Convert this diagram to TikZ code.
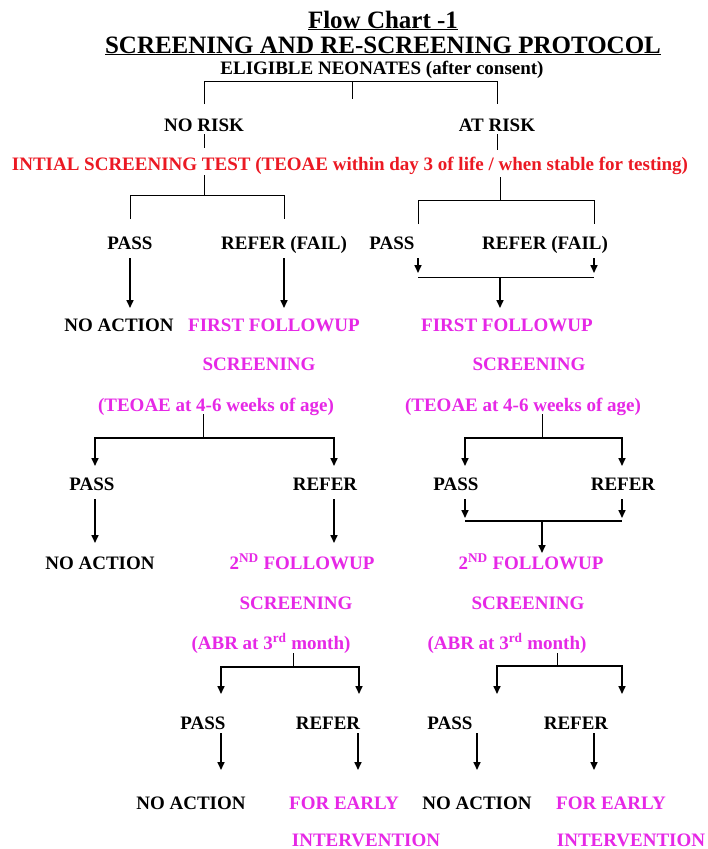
\documentclass[tikz,border=0pt]{standalone}
\usepackage{fontspec}
\setmainfont{Liberation Serif}
\usetikzlibrary{arrows.meta}
\definecolor{chred}{RGB}{235,25,35}
\definecolor{chpink}{RGB}{230,40,230}
\begin{document}
\begin{tikzpicture}[x=1pt,y=-1pt,
  txt/.style={font=\fontsize{19}{22}\selectfont\bfseries, inner sep=0pt, anchor=base},
  ttl/.style={font=\fontsize{25}{28}\selectfont\bfseries, inner sep=0pt, anchor=base},
  pk/.style={txt,text=chpink},
  rd/.style={txt,text=chred},
  ln/.style={line width=1pt},
  thk/.style={line width=1.6pt},
  arr/.style={line width=1.6pt,-{Triangle[length=8pt,width=7pt]}}]
\useasboundingbox[fill=white] (0,0) rectangle (708,849);
% titles
\node[ttl] (t1) at (383,28) {\underline{Flow Chart -1}};
\node[ttl] (t2) at (383,53) {\underline{SCREENING AND RE-SCREENING PROTOCOL}};
\node[txt] (elig) at (382,74) {ELIGIBLE NEONATES (after consent)};
\node[txt] (norisk) at (204,131) {NO RISK};
\node[txt] (atrisk) at (497,131) {AT RISK};
\node[rd] (init) at (350,170) {INTIAL SCREENING TEST (TEOAE within day 3 of life / when stable for testing)};
% level 1
\node[txt] (pass1) at (130,249) {PASS};
\node[txt] (refer1) at (284,249) {REFER (FAIL)};
\node[txt] (pass2) at (392,249) {PASS};
\node[txt] (refer2) at (545,249) {REFER (FAIL)};
\node[txt] (noact1) at (119,331) {NO ACTION};
\node[pk] (ff1) at (274,331) {FIRST FOLLOWUP};
\node[pk] (ff2) at (507,331) {FIRST FOLLOWUP};
\node[pk] (scr1) at (259,370) {SCREENING};
\node[pk] (scr2) at (529,370) {SCREENING};
\node[pk] (teo1) at (216,411) {(TEOAE at 4-6 weeks of age)};
\node[pk] (teo2) at (523,411) {(TEOAE at 4-6 weeks of age)};
% level 2
\node[txt] (pass3) at (92,490) {PASS};
\node[txt] (refer3) at (325,490) {REFER};
\node[txt] (pass4) at (456,490) {PASS};
\node[txt] (refer4) at (623,490) {REFER};
\node[txt] (noact2) at (100,569) {NO ACTION};
\node[pk] (snd1) at (302,569) {2\textsuperscript{ND} FOLLOWUP};
\node[pk] (snd2) at (531,569) {2\textsuperscript{ND} FOLLOWUP};
\node[pk] (scr3) at (296,609) {SCREENING};
\node[pk] (scr4) at (528,609) {SCREENING};
\node[pk] (abr1) at (271,649) {(ABR at 3\textsuperscript{rd} month)};
\node[pk] (abr2) at (507,649) {(ABR at 3\textsuperscript{rd} month)};
% level 3
\node[txt] (pass5) at (203,729) {PASS};
\node[txt] (refer5) at (328,729) {REFER};
\node[txt] (pass6) at (450,729) {PASS};
\node[txt] (refer6) at (576,729) {REFER};
\node[txt] (noact3) at (191,809) {NO ACTION};
\node[pk] (early1) at (344,809) {FOR EARLY};
\node[txt] (noact4) at (477,809) {NO ACTION};
\node[pk] (early2) at (611,809) {FOR EARLY};
\node[pk] (int1) at (366,846) {INTERVENTION};
\node[pk] (int2) at (631,846) {INTERVENTION};
% connectors: top
\draw[ln] (352,81) -- (352,99);
\draw[ln] (204,104) -- (204,81) -- (497,81) -- (497,104);
\draw[ln] (204,134) -- (204,148);
\draw[ln] (497,134) -- (497,150);
% left initial
\draw[ln] (204,175) -- (204,195);
\draw[ln] (130,219) -- (130,195) -- (284,195) -- (284,219);
\draw[arr] (130,258) -- (130,308);
\draw[arr] (284,258) -- (284,308);
% right initial
\draw[ln] (500,177) -- (500,200);
\draw[ln] (418,224) -- (418,200) -- (594,200) -- (594,224);
\draw[arr] (418,258) -- (418,273);
\draw[arr] (594,258) -- (594,273);
\draw[ln] (418,277) -- (594,277);
\draw[arr] (500,277) -- (500,308);
% first followup left
\draw[ln] (203,414) -- (203,438);
\draw[thk] (95,438) -- (334,438);
\draw[arr] (95,437.2) -- (95,466);
\draw[arr] (334,437.2) -- (334,466);
\draw[arr] (95,499) -- (95,543);
\draw[arr] (334,499) -- (334,543);
% first followup right
\draw[ln] (542,414) -- (542,438);
\draw[thk] (465,438) -- (622,438);
\draw[arr] (465,437.2) -- (465,466);
\draw[arr] (622,437.2) -- (622,466);
\draw[arr] (465,499) -- (465,518);
\draw[arr] (622,499) -- (622,518);
\draw[thk] (465,521) -- (622,521);
\draw[arr] (542,521) -- (542,553);
% second followup
\draw[ln] (293,653) -- (293,667);
\draw[thk] (221,667) -- (359,667);
\draw[arr] (221,666.2) -- (221,694);
\draw[arr] (359,666.2) -- (359,694);
\draw[ln] (557,653) -- (557,666);
\draw[thk] (497,666) -- (622,666);
\draw[arr] (497,665.2) -- (497,694);
\draw[arr] (622,665.2) -- (622,694);
% bottom arrows
\draw[arr] (221,733) -- (221,770);
\draw[arr] (358,733) -- (358,770);
\draw[arr] (477,733) -- (477,770);
\draw[arr] (594,733) -- (594,770);
\end{tikzpicture}
\end{document}
